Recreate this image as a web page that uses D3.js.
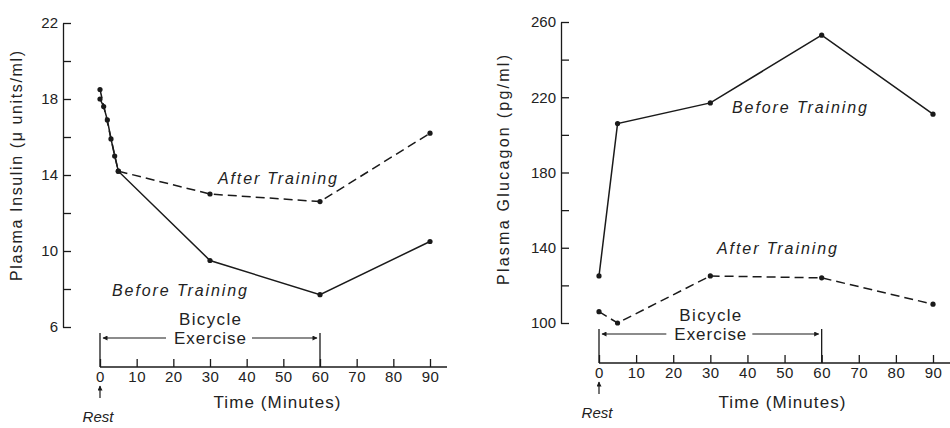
<!DOCTYPE html>
<html>
<head>
<meta charset="utf-8">
<script src="https://cdn.jsdelivr.net/npm/d3@7"></script>
<style>
  body { margin: 0; background: #fff; }
  svg { display: block; font-family: "Liberation Sans", Arial, sans-serif; }
  text { fill: #222; }
</style>
</head>
<body>
<svg id="chart" width="950" height="428"></svg>
<script>
// 数据：训练前后血浆胰岛素 / 胰高血糖素
const timeTicks = [0, 10, 20, 30, 40, 50, 60, 70, 80, 90];
const exerciseStart = 0;
const exerciseEnd = 60;

// 胰岛素 (μ units/ml)
const insulinBeforeTimes = [0, 1, 2, 3, 4, 5, 30, 60, 90];
const insulinBefore = [18.0, 17.6, 16.9, 15.9, 15.0, 14.2, 9.5, 7.7, 10.5];
const insulinAfterTimes = [0, 5, 30, 60, 90];
const insulinAfter = [18.5, 14.2, 13.0, 12.6, 16.2];
const insulinTicks = [6, 8, 10, 12, 14, 16, 18, 20, 22];
const insulinLabels = [6, 10, 14, 18, 22];

// 胰高血糖素 (pg/ml)
const glucagonTimes = [0, 5, 30, 60, 90];
const glucagonBefore = [125, 206, 217, 253, 211];
const glucagonAfter = [106, 100, 125, 124, 110];
const glucagonTicks = [100, 120, 140, 160, 180, 200, 220, 240, 260];
const glucagonLabels = [100, 140, 180, 220, 260];

const svg = d3.select("#chart");
const ink = "#1a1a1a";

// 箭头
const defs = svg.append("defs");
defs.append("marker")
    .attr("id", "arrow")
    .attr("viewBox", "0 0 10 10")
    .attr("refX", 9).attr("refY", 5)
    .attr("markerWidth", 7).attr("markerHeight", 5)
    .attr("markerUnits", "userSpaceOnUse")
    .attr("orient", "auto-start-reverse")
    .append("path")
    .attr("d", "M0,0 L10,5 L0,10 z")
    .attr("fill", ink);

function drawPanel(cfg) {
    const x = d3.scaleLinear().domain([0, 90]).range(cfg.xRange);
    const y = d3.scaleLinear().domain(cfg.yDomain).range(cfg.yRange);
    const g = svg.append("g");

    // y 轴（刻度朝内）
    const yAxis = g.append("g")
        .attr("transform", `translate(${cfg.axisX},0)`)
        .call(d3.axisLeft(y)
            .tickValues(cfg.yTicks)
            .tickSizeInner(-8)
            .tickSizeOuter(0)
            .tickPadding(5)
            .tickFormat(d => cfg.yLabels.includes(d) ? d : ""));
    yAxis.select(".domain").attr("stroke", ink).attr("stroke-width", 1.3);
    yAxis.selectAll(".tick line").attr("stroke", ink).attr("stroke-width", 1.3);
    yAxis.selectAll(".tick text")
        .attr("fill", ink)
        .style("font-size", "15px");

    // x 轴（刻度朝上）
    const xAxis = g.append("g")
        .attr("transform", `translate(0,${cfg.baseY})`)
        .call(d3.axisBottom(x)
            .tickValues(timeTicks)
            .tickSizeInner(-8)
            .tickSizeOuter(0)
            .tickPadding(4));
    xAxis.select(".domain").remove();
    xAxis.selectAll(".tick line").attr("stroke", ink).attr("stroke-width", 1.3);
    xAxis.selectAll(".tick text")
        .attr("fill", ink)
        .style("font-size", "15px")
        .style("letter-spacing", "0.5px");
    g.append("line")
        .attr("x1", x(0)).attr("x2", cfg.baseEnd)
        .attr("y1", cfg.baseY).attr("y2", cfg.baseY)
        .attr("stroke", ink).attr("stroke-width", 1.3);

    // 运动区间括号
    const barY = cfg.baseY - 29;
    [exerciseStart, exerciseEnd].forEach(t => {
        g.append("line")
            .attr("x1", x(t)).attr("x2", x(t))
            .attr("y1", barY - 5).attr("y2", cfg.baseY)
            .attr("stroke", ink).attr("stroke-width", 1.3);
    });
    const midX = (x(exerciseStart) + x(exerciseEnd)) / 2;
    g.append("line")
        .attr("x1", midX - 44).attr("x2", x(exerciseStart) + 3)
        .attr("y1", barY).attr("y2", barY)
        .attr("stroke", ink).attr("stroke-width", 1.2)
        .attr("marker-end", "url(#arrow)");
    g.append("line")
        .attr("x1", midX + 42).attr("x2", x(exerciseEnd) - 3)
        .attr("y1", barY).attr("y2", barY)
        .attr("stroke", ink).attr("stroke-width", 1.2)
        .attr("marker-end", "url(#arrow)");
    g.append("text")
        .attr("x", midX).attr("y", barY - 19).attr("dy", "0.35em")
        .attr("text-anchor", "middle")
        .attr("textLength", 62).attr("lengthAdjust", "spacing")
        .style("font-size", "17px")
        .text("Bicycle");
    g.append("text")
        .attr("x", midX).attr("y", barY).attr("dy", "0.35em")
        .attr("text-anchor", "middle")
        .attr("textLength", 72).attr("lengthAdjust", "spacing")
        .style("font-size", "17px")
        .text("Exercise");

    // Rest 标记
    g.append("line")
        .attr("x1", x(0)).attr("x2", x(0))
        .attr("y1", cfg.baseY + 31).attr("y2", cfg.baseY + 19)
        .attr("stroke", ink).attr("stroke-width", 1.2)
        .attr("marker-end", "url(#arrow)");
    g.append("text")
        .attr("x", x(0) - 2).attr("y", cfg.baseY + 55)
        .attr("text-anchor", "middle")
        .style("font-size", "15px")
        .style("font-style", "italic")
        .text("Rest");

    g.append("text")
        .attr("x", cfg.timeX).attr("y", 402).attr("dy", "0.35em")
        .attr("text-anchor", "middle")
        .attr("textLength", 127).attr("lengthAdjust", "spacing")
        .style("font-size", "17px")
        .text("Time (Minutes)");

    // y 轴标题
    g.append("text")
        .attr("transform", `translate(${cfg.titleX},${cfg.titleY}) rotate(-90)`)
        .attr("text-anchor", "middle")
        .attr("dy", "0.35em")
        .attr("textLength", 230).attr("lengthAdjust", "spacing")
        .style("font-size", "16px")
        .text(cfg.title);

    // 曲线
    const line = d3.line().x(d => x(d[0])).y(d => y(d[1]));
    cfg.series.forEach(s => {
        const pts = s.times.map((t, i) => [t, s.values[i]]);
        g.append("path")
            .datum(pts)
            .attr("d", line)
            .attr("fill", "none")
            .attr("stroke", ink)
            .attr("stroke-width", 1.5)
            .attr("stroke-dasharray", s.dashed ? "9,5" : null);
        g.selectAll(null)
            .data(pts)
            .join("circle")
            .attr("cx", d => x(d[0]))
            .attr("cy", d => y(d[1]))
            .attr("r", 2.6)
            .attr("fill", ink);
        g.append("text")
            .attr("x", s.labelX).attr("y", s.labelY).attr("dy", "0.35em")
            .attr("textLength", s.labelW).attr("lengthAdjust", "spacing")
            .style("font-size", "16px")
            .style("font-style", "italic")
            .text(s.label);
    });
}

drawPanel({
    xRange: [100, 430],
    yDomain: [6, 22],
    yRange: [327, 23],
    axisX: 63,
    baseY: 367,
    baseEnd: 447,
    yTicks: insulinTicks,
    yLabels: insulinLabels,
    timeX: 277,
    titleX: 16,
    titleY: 166,
    title: "Plasma Insulin (μ units/ml)",
    series: [
        { times: insulinBeforeTimes, values: insulinBefore, dashed: false,
          label: "Before Training", labelX: 112, labelY: 290, labelW: 135 },
        { times: insulinAfterTimes, values: insulinAfter, dashed: true,
          label: "After Training", labelX: 218, labelY: 178, labelW: 119 }
    ]
});

drawPanel({
    xRange: [599, 933],
    yDomain: [100, 260],
    yRange: [323, 22],
    axisX: 561,
    baseY: 363,
    baseEnd: 950,
    yTicks: glucagonTicks,
    yLabels: glucagonLabels,
    timeX: 782,
    titleX: 503,
    titleY: 170,
    title: "Plasma Glucagon (pg/ml)",
    series: [
        { times: glucagonTimes, values: glucagonBefore, dashed: false,
          label: "Before Training", labelX: 732, labelY: 107, labelW: 135 },
        { times: glucagonTimes, values: glucagonAfter, dashed: true,
          label: "After Training", labelX: 717, labelY: 248, labelW: 120 }
    ]
});
</script>
</body>
</html>
